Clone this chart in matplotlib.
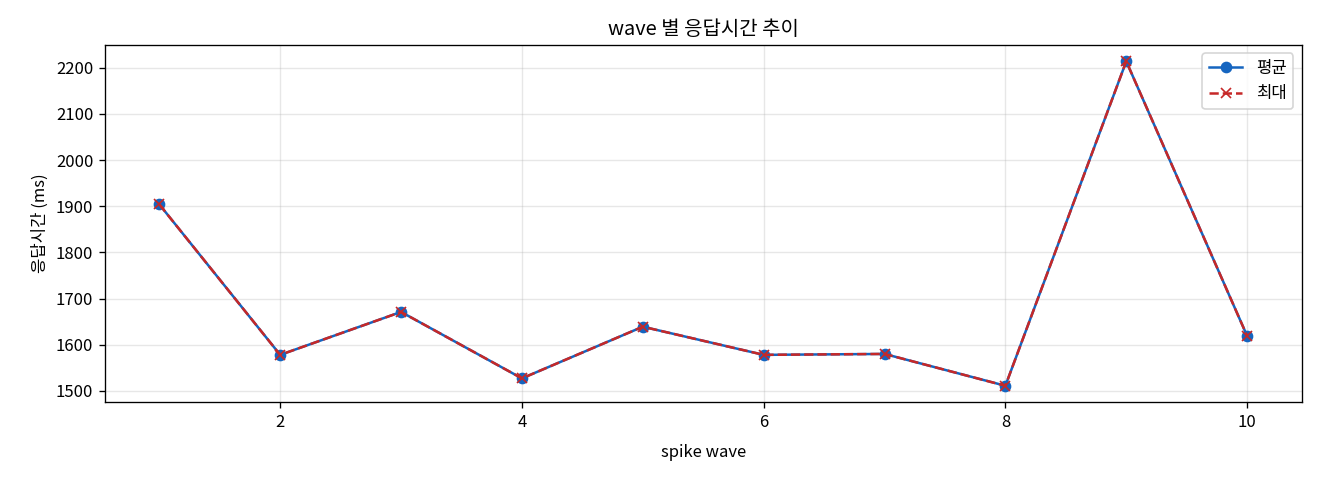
import matplotlib
matplotlib.use("Agg")
import matplotlib.pyplot as plt

plt.rcParams['font.family'] = ['Noto Sans CJK KR', 'DejaVu Sans']
plt.rcParams['axes.unicode_minus'] = False

# 데이터
waves = [1, 2, 3, 4, 5, 6, 7, 8, 9, 10]
avg_ms = [1904, 1578, 1671, 1527, 1639, 1578, 1580, 1511, 2214, 1619]
max_ms = [1904, 1578, 1671, 1527, 1639, 1578, 1580, 1511, 2214, 1619]

fig, ax = plt.subplots(figsize=(11, 4), dpi=120)

ax.plot(waves, avg_ms, marker='o', color='#1565c0', label='평균')
ax.plot(waves, max_ms, marker='x', linestyle='--', color='#c62828', label='최대')

ax.set_title('wave 별 응답시간 추이')
ax.set_xlabel('spike wave', labelpad=8)
ax.set_ylabel('응답시간 (ms)')
ax.grid(True, alpha=0.3)
ax.legend()

fig.subplots_adjust(left=0.0795, right=0.986, top=0.906, bottom=0.1625)
fig.savefig('out.png')
